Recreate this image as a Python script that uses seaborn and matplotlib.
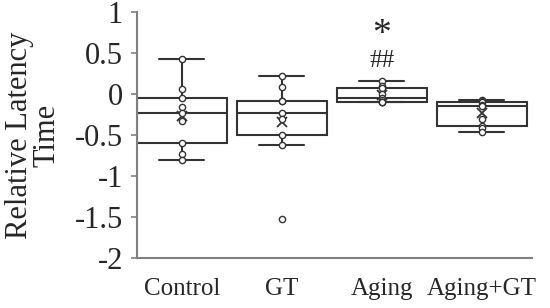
import matplotlib
matplotlib.use("Agg")
import matplotlib.pyplot as plt
import matplotlib.transforms as mtransforms
import pandas as pd
import seaborn as sns

# ---- data -------------------------------------------------------------------
groups = ["Control", "GT", "Aging", "Aging+GT"]
control = [0.43, 0.06, -0.05, -0.16, -0.23, -0.33, -0.60, -0.73, -0.80]
gt = [0.22, 0.09, -0.085, -0.085, -0.23, -0.30, -0.50, -0.62, -1.52]
aging = [0.16, 0.10, 0.07, 0.0, -0.05, -0.07, -0.10, -0.10, -0.10]
aging_gt = [-0.07, -0.08, -0.10, -0.13, -0.15, -0.30, -0.39, -0.42, -0.46]
yticks = [1, 0.5, 0, -0.5, -1, -1.5, -2]
sig_group = "Aging"
sig_labels = ["*", "##"]
sig_y = [0.72, 0.40]

sns.set_theme(style="ticks")
plt.rcParams["font.family"] = ["Liberation Serif", "DejaVu Serif"]

df = pd.concat([pd.DataFrame({"group": g, "value": v})
                for g, v in zip(groups, [control, gt, aging, aging_gt])],
               ignore_index=True)

line_c = "#333333"
fig, ax = plt.subplots(figsize=(5.5, 3.08), dpi=100)
fig.subplots_adjust(left=0.249, right=0.967, bottom=0.162, top=0.961)

sns.boxplot(data=df, x="group", y="value", order=groups, width=0.9, whis=1.5,
            color="white", linecolor=line_c, linewidth=1.5, showfliers=False,
            showmeans=True,
            meanprops=dict(marker="x", markeredgecolor=line_c, markersize=7,
                           markeredgewidth=1.3),
            ax=ax)
sns.stripplot(data=df, x="group", y="value", order=groups, jitter=False,
              marker="o", size=4.5, color="white", edgecolor=line_c, linewidth=1,
              ax=ax, zorder=4)

xi = groups.index(sig_group)
ax.text(xi, sig_y[0], sig_labels[0], ha="center", va="center", fontsize=27)
ax.text(xi, sig_y[1], sig_labels[1], ha="center", va="center", fontsize=18)

ax.set_ylim(-2, 1)
ax.set_xlim(-0.45, 3.5)
ax.set_yticks(yticks)
ax.set_yticklabels([str(t) for t in yticks], fontsize=22)
ax.set_xticks(range(len(groups)))
ax.set_xticklabels(groups, fontsize=18)
# category labels sit a little right of the box centres in the original
shift = mtransforms.ScaledTranslation(6 / 100, 0, fig.dpi_scale_trans)
for lab in ax.get_xticklabels():
    lab.set_transform(lab.get_transform() + shift)
ax.tick_params(axis="x", length=0, pad=14)
ax.tick_params(axis="y", length=4, width=1.2, color="#808080", pad=6)
ax.set_xlabel("")
ax.set_ylabel("Relative Latency\nTime", fontsize=22, linespacing=0.95)
ax.yaxis.set_label_coords(-0.19, 0.5)
for side in ("top", "right"):
    ax.spines[side].set_visible(False)
for side in ("left", "bottom"):
    ax.spines[side].set_color("#808080")
    ax.spines[side].set_linewidth(1.5)

fig.savefig("out.png", dpi=100)
